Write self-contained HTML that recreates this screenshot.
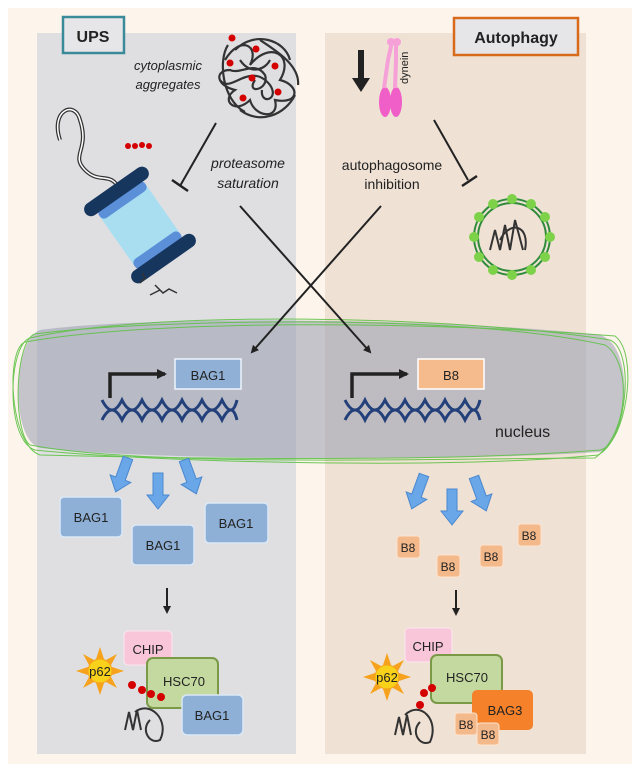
<!DOCTYPE html>
<html><head><style>
body{margin:0;background:#fff;}
svg{display:block;}
text{font-family:"Liberation Sans",sans-serif;}
</style></head><body>
<svg width="638" height="772" viewBox="0 0 638 772" xmlns="http://www.w3.org/2000/svg">
<defs>
<marker id="ah" markerWidth="8" markerHeight="8" refX="6" refY="4" orient="auto" markerUnits="userSpaceOnUse"><path d="M0,0 L8,4 L0,8 Z" fill="#222"/></marker>
<marker id="ah2" markerWidth="10" markerHeight="10" refX="8" refY="5" orient="auto" markerUnits="userSpaceOnUse"><path d="M0,0 L10,5 L0,10 Z" fill="#222"/></marker>
</defs>
<rect x="8" y="8" width="624" height="756" fill="#fdf4ec"/>
<rect x="37" y="33" width="259" height="721" fill="#dfdfe1"/>
<rect x="325" y="33" width="261" height="721" fill="#efe1d4"/>
<!-- nucleus -->
<path d="M40,330 C150,315 450,318 600,335 C635,345 630,440 600,452 C450,462 150,460 40,448 C10,440 12,340 40,330 Z" fill="#9ea4b4" opacity="0.6"/>
<g fill="none" stroke="#5fc246" stroke-width="1" opacity="0.9">
<path d="M30,338 C150,310 450,315 610,340 C635,350 628,440 598,455 C450,470 150,462 35,450 C5,440 8,345 30,338 Z"/>
<path d="M25,342 C160,318 440,322 615,336 C640,355 625,445 600,450 C440,463 160,458 40,455 C10,445 5,350 25,342 Z"/>
<path d="M35,334 C140,320 460,312 605,345 C630,360 632,430 595,458 C460,458 150,468 30,445 C12,430 15,340 35,334 Z"/>
</g>
<!-- headers -->
<rect x="63" y="17" width="61" height="36" fill="#e6e6e8" stroke="#3a8a9a" stroke-width="2.5"/>
<text x="93" y="42" font-size="16" font-weight="bold" text-anchor="middle" fill="#222">UPS</text>
<rect x="454" y="18" width="124" height="37" fill="#e6e6e8" stroke="#d96a1c" stroke-width="2.5"/>
<text x="516" y="43" font-size="16" font-weight="bold" text-anchor="middle" fill="#222">Autophagy</text>
<!-- aggregate -->
<g fill="none" stroke="#333" stroke-width="2.2">
<path d="M225,60 C240,35 260,45 250,65 C270,40 295,55 280,80 C300,85 300,105 275,100 C280,120 255,118 250,100 C235,115 220,100 235,90 C215,85 215,70 230,70 C240,75 255,60 265,75 C270,90 245,95 255,80"/>
<path d="M235,50 C255,30 285,40 290,60 M240,110 C260,125 285,115 295,95 M220,80 C230,95 250,60 270,85 C280,100 260,105 262,90"/>
<path d="M228,45 C218,60 222,100 245,112 M260,40 C275,50 300,65 298,85 M240,60 C250,75 265,70 270,60"/>
</g>
<g fill="#d40000"><circle cx="232" cy="38" r="3.5"/><circle cx="256" cy="49" r="3.5"/><circle cx="230" cy="63" r="3.5"/><circle cx="275" cy="66" r="3.5"/><circle cx="252" cy="78" r="3.5"/><circle cx="278" cy="92" r="3.5"/><circle cx="243" cy="98" r="3.5"/></g>
<text x="168" y="70" font-size="13" font-style="italic" text-anchor="middle" fill="#222">cytoplasmic</text>
<text x="168" y="89" font-size="13" font-style="italic" text-anchor="middle" fill="#222">aggregates</text>
<!-- dynein -->
<path d="M361,50 L361,80" stroke="#222" stroke-width="6"/><path d="M352,78 L370,78 L361,92 Z" fill="#222"/>
<ellipse cx="385" cy="102" rx="6" ry="15" fill="#f05fc8"/><ellipse cx="396" cy="102" rx="6" ry="15" fill="#f05fc8"/>
<path d="M384,88 L388,60 L392,42 M395,88 L396,60 L396,42" stroke="#f6a0d8" stroke-width="4" fill="none"/>
<circle cx="391" cy="42" r="4" fill="#f6a0d8"/><circle cx="397" cy="42" r="4" fill="#f6a0d8"/>
<text transform="translate(408,84) rotate(-90)" font-size="11" fill="#222">dynein</text>
<!-- inhibition lines -->
<path d="M216,123 L180,186" stroke="#222" stroke-width="2"/><path d="M172,180 L188,191" stroke="#222" stroke-width="2.5"/>
<path d="M434,120 L468,180" stroke="#222" stroke-width="2"/><path d="M462,186 L477,176" stroke="#222" stroke-width="2.5"/>
<text x="248" y="168" font-size="14" font-style="italic" text-anchor="middle" fill="#222">proteasome</text>
<text x="248" y="188" font-size="14" font-style="italic" text-anchor="middle" fill="#222">saturation</text>
<text x="392" y="170" font-size="14" text-anchor="middle" fill="#222">autophagosome</text>
<text x="392" y="189" font-size="14" text-anchor="middle" fill="#222">inhibition</text>
<!-- proteasome -->
<path d="M60,140 C50,110 75,100 80,120 C90,150 70,155 85,170 C100,185 110,170 120,190" stroke="#333" stroke-width="4" fill="none"/>
<path d="M60,140 C50,110 75,100 80,120 C90,150 70,155 85,170 C100,185 110,170 120,190" stroke="#fff" stroke-width="1.5" fill="none"/>
<g fill="#d40000"><circle cx="128" cy="146" r="3"/><circle cx="135" cy="146" r="3"/><circle cx="142" cy="145" r="3"/><circle cx="149" cy="146" r="3"/></g>
<g transform="translate(140,225) rotate(-35)">
<rect x="-28" y="-30" width="56" height="60" fill="#a8def0"/>
<rect x="-28" y="-36" width="56" height="11" rx="5" fill="#5b8fd8"/>
<rect x="-28" y="25" width="56" height="11" rx="5" fill="#5b8fd8"/>
<rect x="-38" y="-48" width="76" height="14" rx="7" fill="#17365e"/>
<rect x="-38" y="34" width="76" height="14" rx="7" fill="#17365e"/>
</g>
<path d="M140,283 l5,-5 l-3,-5 M155,285 l8,8 l6,-4 l8,4 M150,295 l10,-5" stroke="#333" stroke-width="1.5" fill="none"/>
<!-- autophagosome -->
<circle cx="512" cy="237" r="38" fill="none" stroke="#2e8b3a" stroke-width="2"/>
<circle cx="512" cy="237" r="34" fill="none" stroke="#2e8b3a" stroke-width="2"/>
<g fill="#7dd24a">
<circle cx="512" cy="199" r="5"/><circle cx="531" cy="204" r="5"/><circle cx="545" cy="217" r="5"/><circle cx="550" cy="237" r="5"/><circle cx="545" cy="257" r="5"/><circle cx="531" cy="270" r="5"/><circle cx="512" cy="275" r="5"/><circle cx="493" cy="270" r="5"/><circle cx="479" cy="257" r="5"/><circle cx="474" cy="237" r="5"/><circle cx="479" cy="217" r="5"/><circle cx="493" cy="204" r="5"/></g>
<path d="M490,250 l5,-20 l5,20 l5,-25 l5,25 l5,-30 l8,30 M500,240 C510,220 530,225 525,250" stroke="#333" stroke-width="2" fill="none"/>
<!-- X lines -->
<path d="M240,206 L370,352" stroke="#222" stroke-width="2" marker-end="url(#ah)"/>
<path d="M381,206 L252,352" stroke="#222" stroke-width="2" marker-end="url(#ah)"/>
<!-- nucleus content -->
<rect x="175" y="359" width="66" height="30" fill="#90b0d6" stroke="#eef4fb" stroke-width="1.5"/>
<text x="208" y="380" font-size="13" text-anchor="middle" fill="#222">BAG1</text>
<rect x="418" y="359" width="66" height="30" fill="#f6bb8d" stroke="#fff" stroke-width="1.5"/>
<text x="451" y="380" font-size="13" text-anchor="middle" fill="#222">B8</text>
<path d="M110,398 L110,374 L165,374" stroke="#222" stroke-width="3.5" fill="none" marker-end="url(#ah2)"/>
<path d="M352,398 L352,374 L407,374" stroke="#222" stroke-width="3.5" fill="none" marker-end="url(#ah2)"/>
<g stroke="#23407a" stroke-width="3" fill="none">
<path d="M102,400 q10,20 20,0 q10,20 20,0 q10,20 20,0 q10,20 20,0 q10,20 20,0 q10,20 20,0 q10,20 15,0"/>
<path d="M102,420 q10,-20 20,0 q10,-20 20,0 q10,-20 20,0 q10,-20 20,0 q10,-20 20,0 q10,-20 20,0 q10,-20 15,0"/>
<path d="M345,400 q10,20 20,0 q10,20 20,0 q10,20 20,0 q10,20 20,0 q10,20 20,0 q10,20 20,0 q10,20 15,0"/>
<path d="M345,420 q10,-20 20,0 q10,-20 20,0 q10,-20 20,0 q10,-20 20,0 q10,-20 20,0 q10,-20 20,0 q10,-20 15,0"/>
</g>
<text x="495" y="437" font-size="16" fill="#222">nucleus</text>
<!-- blue arrows -->
<g fill="#6aa7e8" stroke="#4a88d0" stroke-width="1">
<path d="M-5,0 L5,0 L5,22 L11,22 L0,36 L-11,22 L-5,22 Z" transform="translate(128,458) rotate(20)"/>
<path d="M-5,0 L5,0 L5,22 L11,22 L0,36 L-11,22 L-5,22 Z" transform="translate(158,473)"/>
<path d="M-5,0 L5,0 L5,22 L11,22 L0,36 L-11,22 L-5,22 Z" transform="translate(184,460) rotate(-20)"/>
<path d="M-5,0 L5,0 L5,22 L11,22 L0,36 L-11,22 L-5,22 Z" transform="translate(424,475) rotate(20)"/>
<path d="M-5,0 L5,0 L5,22 L11,22 L0,36 L-11,22 L-5,22 Z" transform="translate(452,489)"/>
<path d="M-5,0 L5,0 L5,22 L11,22 L0,36 L-11,22 L-5,22 Z" transform="translate(474,477) rotate(-20)"/>
</g>
<!-- BAG1 boxes -->
<g fill="#8fb0d6" stroke="#dbe8f6" stroke-width="1.5">
<rect x="60" y="497" width="62" height="40" rx="4"/><rect x="132" y="525" width="62" height="40" rx="4"/><rect x="205" y="503" width="63" height="40" rx="4"/>
</g>
<g font-size="13" text-anchor="middle" fill="#222">
<text x="91" y="522">BAG1</text><text x="163" y="550">BAG1</text><text x="236" y="528">BAG1</text>
</g>
<g fill="#f4b98b" stroke="#fbe3cf" stroke-width="1">
<rect x="397" y="536" width="23" height="22" rx="3"/><rect x="437" y="555" width="23" height="22" rx="3"/><rect x="480" y="545" width="23" height="22" rx="3"/><rect x="518" y="524" width="23" height="22" rx="3"/>
</g>
<g font-size="12" text-anchor="middle" fill="#222">
<text x="408" y="552">B8</text><text x="448" y="571">B8</text><text x="491" y="561">B8</text><text x="529" y="540">B8</text>
</g>
<path d="M167,588 L167,612" stroke="#222" stroke-width="2" marker-end="url(#ah)"/>
<path d="M456,590 L456,614" stroke="#222" stroke-width="2" marker-end="url(#ah)"/>
<!-- left complex -->
<rect x="124" y="631" width="48" height="34" rx="4" fill="#f8c6d8" stroke="#fde6ef"/>
<text x="148" y="654" font-size="13" text-anchor="middle" fill="#222">CHIP</text>
<rect x="147" y="658" width="71" height="50" rx="6" fill="#c3d9a0" stroke="#7a9a48" stroke-width="2"/>
<text x="184" y="686" font-size="13" text-anchor="middle" fill="#222">HSC70</text>
<path d="M125,730 l4,-18 l4,18 l4,-20 l4,20 M135,712 C150,700 170,720 160,740 C150,745 140,730 150,720" stroke="#333" stroke-width="2" fill="none"/>
<rect x="182" y="695" width="61" height="40" rx="5" fill="#8fb0d6" stroke="#dbe8f6" stroke-width="1.5"/>
<text x="212" y="720" font-size="13" text-anchor="middle" fill="#222">BAG1</text>
<g fill="#d40000"><circle cx="132" cy="685" r="4"/><circle cx="142" cy="690" r="4"/><circle cx="151" cy="694" r="4"/><circle cx="161" cy="697" r="4"/></g>
<g transform="translate(100,671)"><g fill="#f6a21c">
<path d="M-4,-12 L0,-24 L4,-12 Z"/><path d="M-4,12 L0,24 L4,12 Z"/><path d="M-12,-4 L-24,0 L-12,4 Z"/><path d="M12,-4 L24,0 L12,4 Z"/>
<path d="M-11,-6 L-17,-17 L-6,-11 Z"/><path d="M11,-6 L17,-17 L6,-11 Z"/><path d="M-11,6 L-17,17 L-6,11 Z"/><path d="M11,6 L17,17 L6,11 Z"/></g>
<circle r="12" fill="#f7d11a" stroke="#f6a21c"/><text y="5" font-size="13" text-anchor="middle" fill="#222">p62</text></g>
<!-- right complex -->
<rect x="405" y="628" width="47" height="34" rx="4" fill="#f8c6d8" stroke="#fde6ef"/>
<text x="428" y="651" font-size="13" text-anchor="middle" fill="#222">CHIP</text>
<rect x="431" y="655" width="71" height="48" rx="6" fill="#c3d9a0" stroke="#7a9a48" stroke-width="2"/>
<text x="467" y="682" font-size="13" text-anchor="middle" fill="#222">HSC70</text>
<rect x="472" y="690" width="61" height="40" rx="5" fill="#f5822a"/>
<text x="505" y="715" font-size="13" text-anchor="middle" fill="#222">BAG3</text>
<path d="M395,735 l4,-18 l4,18 l4,-20 l4,20 M405,715 C420,700 440,720 430,742 C420,747 410,732 420,722" stroke="#333" stroke-width="2" fill="none"/>
<g fill="#f4b98b" stroke="#fbe3cf"><rect x="455" y="713" width="22" height="22" rx="3"/><rect x="477" y="723" width="22" height="22" rx="3"/></g>
<text x="466" y="729" font-size="12" text-anchor="middle" fill="#222">B8</text><text x="488" y="739" font-size="12" text-anchor="middle" fill="#222">B8</text>
<g fill="#d40000"><circle cx="424" cy="693" r="4"/><circle cx="432" cy="688" r="4"/><circle cx="420" cy="705" r="4"/></g>
<g transform="translate(387,677)"><g fill="#f6a21c">
<path d="M-4,-12 L0,-24 L4,-12 Z"/><path d="M-4,12 L0,24 L4,12 Z"/><path d="M-12,-4 L-24,0 L-12,4 Z"/><path d="M12,-4 L24,0 L12,4 Z"/>
<path d="M-11,-6 L-17,-17 L-6,-11 Z"/><path d="M11,-6 L17,-17 L6,-11 Z"/><path d="M-11,6 L-17,17 L-6,11 Z"/><path d="M11,6 L17,17 L6,11 Z"/></g>
<circle r="12" fill="#f7d11a" stroke="#f6a21c"/><text y="5" font-size="13" text-anchor="middle" fill="#222">p62</text></g>
</svg>
</body></html>
